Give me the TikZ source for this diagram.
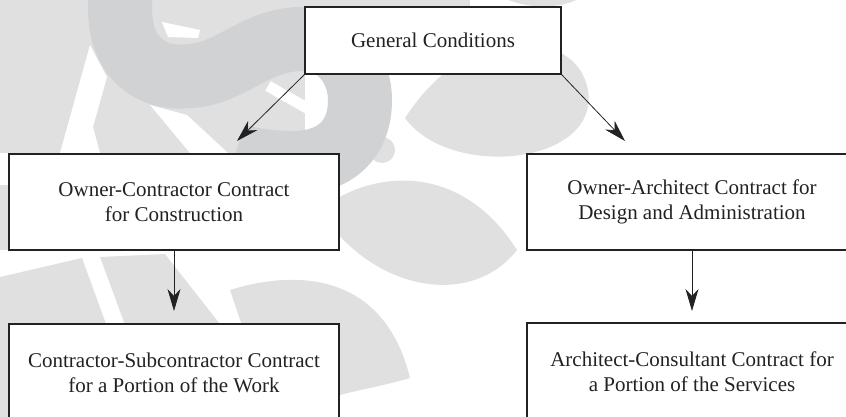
\documentclass[tikz,border=0pt]{standalone}
\usepackage{fontspec}
\setmainfont{Liberation Serif}
\usetikzlibrary{arrows.meta}
\definecolor{wmL}{RGB}{224,224,224}
\definecolor{wmD}{RGB}{209,210,212}
\definecolor{ink}{RGB}{34,34,34}
\begin{document}
\begin{tikzpicture}[x=1pt,y=-1pt,
  box/.style={draw=ink, line width=1.2pt, fill=white, align=center, text=ink,
    font=\fontsize{21}{25}\selectfont, inner sep=0pt},
  arr/.style={draw=ink, line width=0.8pt, -{Stealth[length=22pt,width=13pt,inset=7pt]}}]
\useasboundingbox (0,0) rectangle (846,417);
\clip (0,0) rectangle (846,417);
% ---- watermark: light shapes ----
\fill[wmL] (0,0) rectangle (305,153);
\fill[wmL] (0,185) rectangle (9,250);
\fill[wmL] (300,-10) rectangle (470,8);
\fill[wmL] (490,-10) .. controls (520,12) and (570,12) .. (590,-10) -- cycle;
% leaf right of General Conditions
\fill[wmL] (405,118) .. controls (450,180) and (600,165) .. (588,90)
  .. controls (580,50) and (540,40) .. (500,45)
  .. controls (460,55) and (430,80) .. (405,118) -- cycle;
% leaf right of left middle box
\fill[wmL] (320,210) .. controls (370,170) and (460,160) .. (517,250)
  .. controls (470,310) and (370,290) .. (320,210) -- cycle;
% large lower leaf
\fill[wmL] (230,290) .. controls (300,268) and (385,275) .. (410,378)
  .. controls (370,390) and (320,395) .. (280,417) -- (273,417) -- cycle;
% shapes between left boxes
\fill[wmL] (0,277) -- (82,258) -- (140,417) -- (0,417) -- cycle;
\fill[wmL] (100,257) -- (165,254) -- (227,333) -- (128,333) -- cycle;
% small blob next to S
\fill[wmL] (382,150) circle (13);
% white stripes
\fill[white] (90,45) -- (107,77) -- (93,127) -- (100,153) -- (60,153) -- cycle;
\fill[white] (150,105) -- (187,115) -- (228,153) -- (190,153) -- cycle;
\fill[white] (162,22) -- (200,30) -- (198,38) -- (168,37) -- cycle;
\draw[white, line width=11pt] (268,86) -- (328,120);
% dark S
\draw[wmD, line width=64pt]
  (125,-40) .. controls (118,0) and (115,40) .. (140,62)
  .. controls (155,75) and (170,78) .. (190,76)
  .. controls (230,74) and (255,40) .. (300,39)
  .. controls (340,38) and (360,70) .. (360,100)
  .. controls (360,140) and (335,162) .. (295,163)
  .. controls (270,163) and (250,160) .. (235,155);
% ---- diagram ----
\node[box, minimum width=256pt, minimum height=67pt] (gc) at (433,40.5) {General Conditions};
\node[box, minimum width=330pt, minimum height=96pt] (oc) at (174,202) {Owner-Contractor Contract\\for Construction};
\node[box, minimum width=330pt, minimum height=96pt] (oa) at (692,202) {Owner-Architect Contract for\\Design and Administration};
\node[box, minimum width=330pt, minimum height=97pt] (cs) at (174,372.5) {Contractor-Subcontractor Contract\\for a Portion of the Work};
\node[box, minimum width=330pt, minimum height=97pt] (ac) at (692,371.5) {Architect-Consultant Contract for\\a Portion of the Services};
\coordinate (t1) at (237,141);
\coordinate (t2) at (625,141);
\coordinate (t3) at (174,311);
\coordinate (t4) at (692,311);
\draw[arr] (gc.south west) -- (t1);
\draw[arr] (gc.south east) -- (t2);
\draw[arr] (oc.south) -- (t3);
\draw[arr] (oa.south) -- (t4);
\end{tikzpicture}
\end{document}
